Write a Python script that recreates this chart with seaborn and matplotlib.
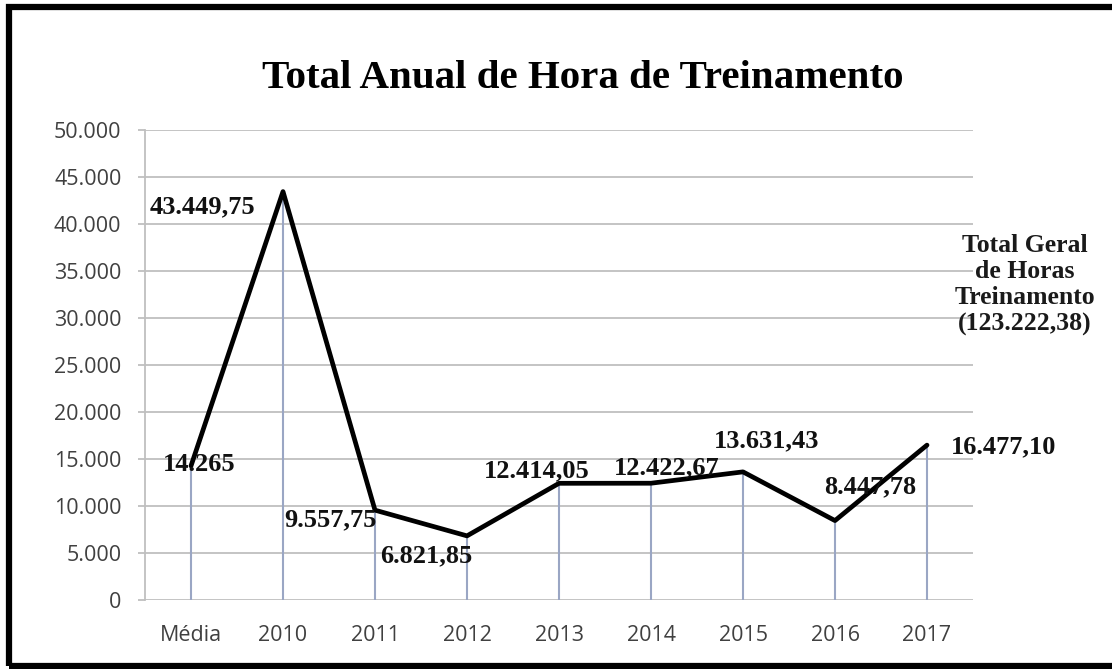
import matplotlib
matplotlib.use("Agg")
import matplotlib.pyplot as plt
import seaborn as sns
import pandas as pd
from matplotlib.patches import Rectangle

categories = ["Média", "2010", "2011", "2012", "2013", "2014", "2015", "2016", "2017"]
values = [14265, 43449.75, 9557.75, 6821.85, 12414.05, 12422.67, 13631.43, 8447.78, 16477.10]
labels = ["14.265", "43.449,75", "9.557,75", "6.821,85", "12.414,05", "12.422,67",
          "13.631,43", "8.447,78", "16.477,10"]
yticks = [0, 5000, 10000, 15000, 20000, 25000, 30000, 35000, 40000, 45000, 50000]
ytick_labels = ["0", "5.000", "10.000", "15.000", "20.000", "25.000", "30.000",
                "35.000", "40.000", "45.000", "50.000"]
title = "Total Anual de Hora de Treinamento"
note = "Total Geral\nde Horas\nTreinamento\n(123.222,38)"

# label offsets in points (dx, dy) relative to each point
offsets = [(6, 1), (-58, -11), (-32, -7), (-29, -14), (-16, 9), (11, 11), (17, 22), (25, 24), (55, -1)]

sns.set_theme(style="white")
plt.rcParams["font.family"] = ["Open Sans", "DejaVu Sans"]

df = pd.DataFrame({"cat": categories, "val": values})
df["x"] = range(len(df))

W, H = 1112, 669
fig = plt.figure(figsize=(W / 100, H / 100), dpi=100)
ax = fig.add_axes([145 / W, 1 - 600 / H, (973 - 145) / W, (600 - 130) / H])

for y in yticks:
    ax.axhline(y, color="#bfbfbf", lw=1.3, zorder=0)
ax.vlines(df["x"], 0, df["val"], color="#9aa6c4", lw=1.5, zorder=1)

sns.lineplot(data=df, x="x", y="val", ax=ax, color="black", lw=3.4, sort=False, zorder=3)

for i, (xv, yv) in enumerate(zip(df["x"], df["val"])):
    dx, dy = offsets[i]
    ax.annotate(labels[i], (xv, yv), xytext=(dx, dy), textcoords="offset points",
                ha="center", va="center", family="Liberation Serif", fontweight="bold",
                fontsize=19, color="#111111", zorder=4)

ax.set_xlim(-0.5, 8.5)
ax.set_ylim(0, 50000)
ax.set_xticks(range(len(categories)))
ax.set_xticklabels(categories)
ax.set_yticks(yticks)
ax.set_yticklabels(ytick_labels)
ax.tick_params(axis="both", labelsize=15.5, labelcolor="#404040")
ax.tick_params(axis="x", length=0, pad=18)
ax.tick_params(axis="y", length=5, width=1.3, color="#bfbfbf", direction="out", pad=12, left=True)
ax.set_xlabel("")
ax.set_ylabel("")
for s in ["top", "right", "bottom"]:
    ax.spines[s].set_visible(False)
ax.spines["left"].set_color("#bfbfbf")
ax.spines["left"].set_linewidth(1.3)

fig.text(583 / W, 1 - 78 / H, title, ha="center", va="center", family="Liberation Serif",
         fontweight="bold", fontsize=29.5, color="black")
fig.text(1025 / W, 1 - 285 / H, note, ha="center", va="center", family="Liberation Serif",
         fontweight="bold", fontsize=18.5, color="#1a1a1a", linespacing=1.17)

fig.patches.append(Rectangle((9 / W, 3 / H), (1125 - 9) / W, (662 - 3) / H, transform=fig.transFigure,
                             fill=False, edgecolor="black", lw=4.5))

fig.savefig("out.png", dpi=100, facecolor="white")
